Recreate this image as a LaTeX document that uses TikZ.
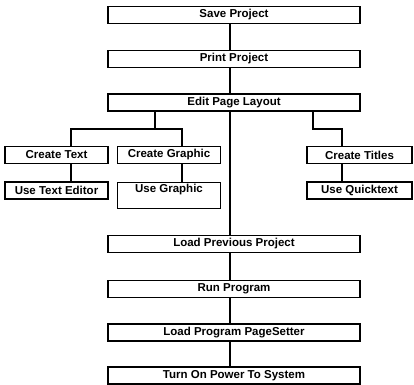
\documentclass[tikz,border=0pt]{standalone}
\usepackage{fontspec}
\setmainfont{Liberation Sans}
\begin{document}
\begin{tikzpicture}[x=1pt,y=-1pt,
  every node/.style={font=\fontsize{11.5}{13}\selectfont\bfseries},
  mainbox/.style={draw, line width=1.3pt, minimum width=252pt, minimum height=17pt, inner sep=0pt},
  subbox/.style={draw, line width=1.3pt, minimum width=103pt, minimum height=17pt, inner sep=0pt},
  conn/.style={line width=1.3pt}]
\useasboundingbox (0,0) rectangle (414,384);
% main column
\node[mainbox] (save) at (234,15) {Save Project};
\node[mainbox] (print) at (234,59) {Print Project};
\node[mainbox] (edit) at (234,102.5) {Edit Page Layout};
\node[mainbox] (loadprev) at (234,244) {Load Previous Project};
\node[mainbox] (run) at (234,289) {Run Program};
\node[mainbox] (loadprog) at (234,332.5) {Load Program PageSetter};
\node[mainbox] (power) at (234,375.5) {Turn On Power To System};
% sub boxes
\node[subbox] (ct) at (56.5,155) {Create Text};
\node[subbox] (ute) at (56.5,190.5) {Use Text Editor};
\node[subbox] (cg) at (169,155) {Create Graphic};
\node[subbox, minimum height=26pt, anchor=north] (ug) at (169,182) {};
\node[anchor=north, inner sep=0pt] (ugt) at ([yshift=-2pt]ug.north) {Use Graphic};
\node[subbox, minimum width=105pt] (cti) at (359.5,155) {Create Titles};
\node[subbox, minimum width=105pt] (uq) at (359.5,190.5) {Use Quicktext};
% connector coordinates
\coordinate (spine) at (230,0);
\coordinate (lj) at (155,129);
\coordinate (ctx) at (71,129);
\coordinate (cgx) at (182,129);
\coordinate (rj) at (313,129);
\coordinate (ctix) at (342,129);
% main spine
\draw[conn] (save.south -| spine) -- (print.north -| spine);
\draw[conn] (print.south -| spine) -- (edit.north -| spine);
\draw[conn] (edit.south -| spine) -- (loadprev.north -| spine);
\draw[conn] (loadprev.south -| spine) -- (run.north -| spine);
\draw[conn] (run.south -| spine) -- (loadprog.north -| spine);
\draw[conn] (loadprog.south -| spine) -- (power.north -| spine);
% left branch
\draw[conn] (edit.south -| lj) -- (lj);
\draw[conn] (ctx |- ct.north) -- (ctx) -- (cgx) -- (cgx |- cg.north);
\draw[conn] (ctx |- ct.south) -- (ctx |- ute.north);
\draw[conn] (cgx |- cg.south) -- (cgx |- ug.north);
% right branch
\draw[conn] (edit.south -| rj) -- (rj) -- (ctix) -- (ctix |- cti.north);
\draw[conn] (ctix |- cti.south) -- (ctix |- uq.north);
\end{tikzpicture}
\end{document}
